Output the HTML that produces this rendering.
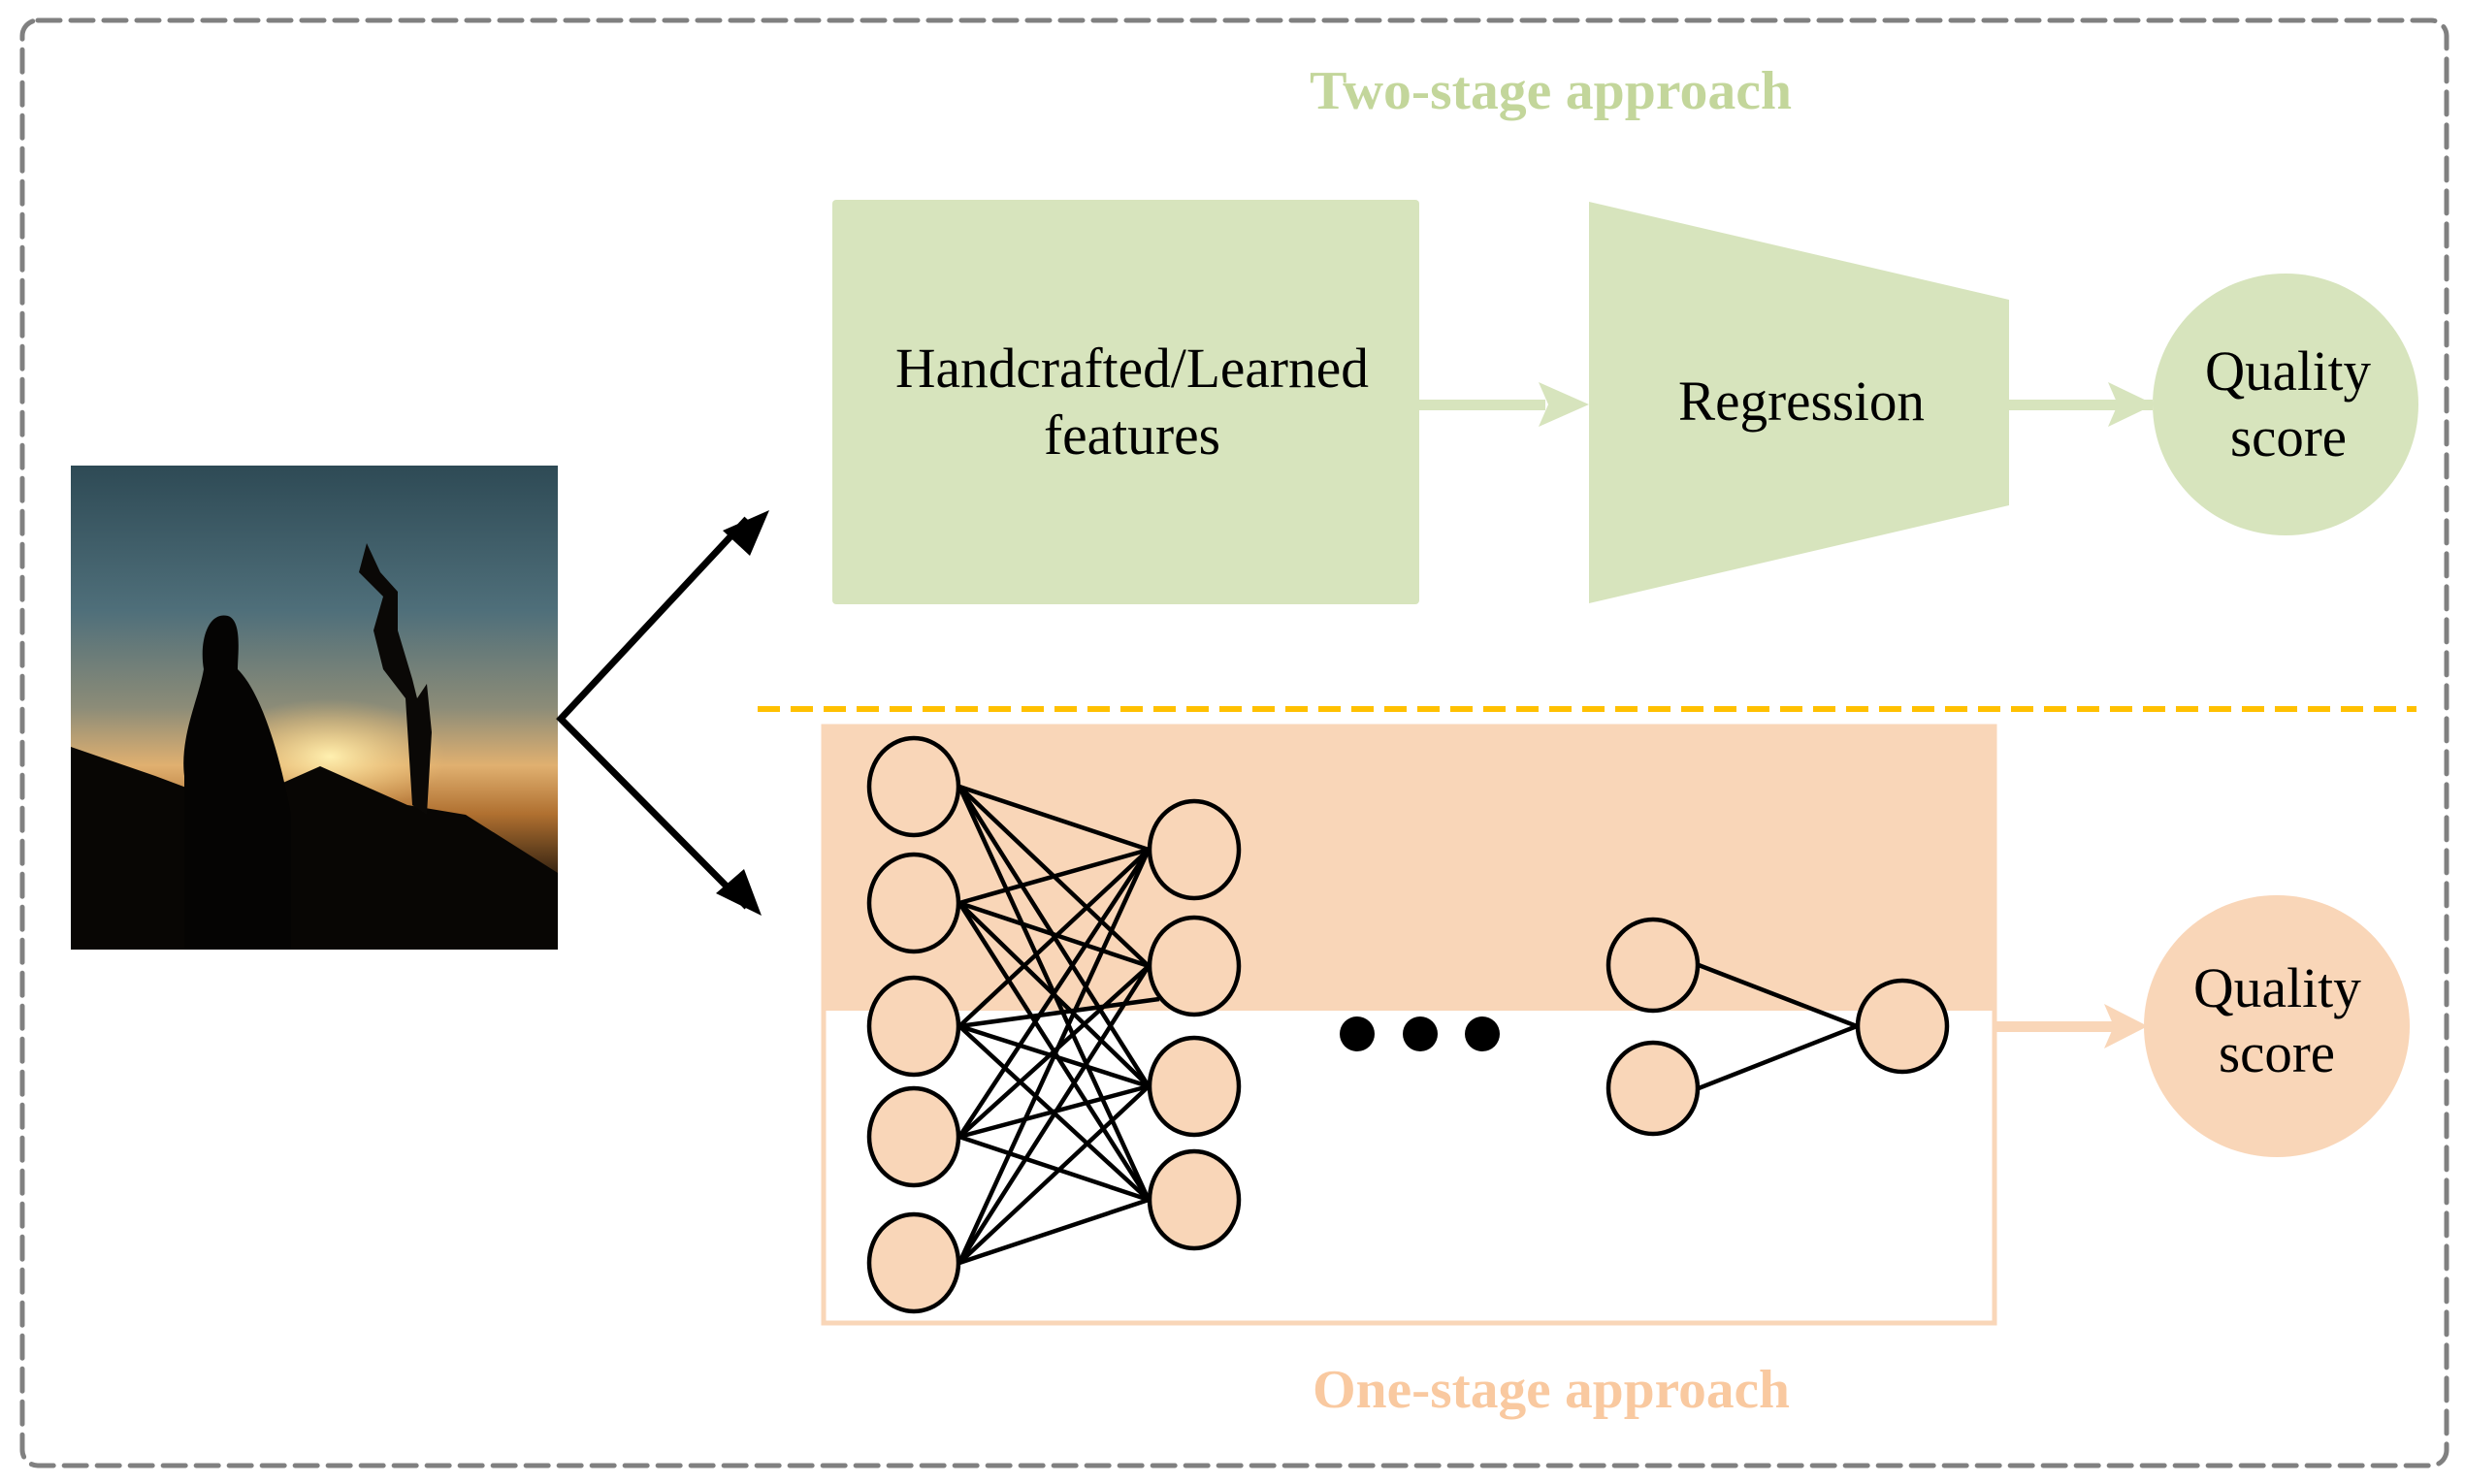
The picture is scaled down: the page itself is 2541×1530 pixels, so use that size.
<!DOCTYPE html>
<html><head><meta charset="utf-8"><style>html,body{margin:0;padding:0;background:#fff}svg{display:block}</style></head><body>
<svg width="2541" height="1530" viewBox="0 0 2541 1530" xmlns="http://www.w3.org/2000/svg" font-family="'Liberation Serif', serif">
<defs>
<linearGradient id="sky" x1="0" y1="0" x2="0" y2="1">
<stop offset="0" stop-color="#2e4a55"/><stop offset="0.3" stop-color="#4f6f7a"/><stop offset="0.5" stop-color="#8c8c78"/><stop offset="0.62" stop-color="#e0b070"/><stop offset="0.72" stop-color="#b07030"/><stop offset="0.85" stop-color="#302010"/><stop offset="1" stop-color="#0a0805"/>
</linearGradient>
<radialGradient id="sun" cx="0.5" cy="0.5" r="0.5"><stop offset="0" stop-color="#fff0b0"/><stop offset="1" stop-color="#f0c070" stop-opacity="0"/></radialGradient>
</defs>
<rect x="23" y="21" width="2499" height="1490" rx="16" fill="none" stroke="#808080" stroke-width="5" stroke-dasharray="23 11" stroke-linecap="round"/>
<rect x="73" y="480" width="502" height="499" fill="url(#sky)"/>
<ellipse cx="340" cy="780" rx="120" ry="60" fill="url(#sun)"/>
<path d="M73 770 L160 800 L240 830 L330 790 L420 830 L480 840 L575 900 L575 979 L73 979 Z" fill="#080604"/>
<path d="M190 800 C185 760 205 720 210 690 C205 660 215 630 235 635 C250 640 245 675 245 690 C265 710 285 760 300 840 L300 979 L190 979 Z" fill="#050403"/>
<path d="M425 830 L418 720 L395 690 L385 650 L395 615 L370 590 L378 560 L392 590 L410 610 L410 650 L425 700 L430 720 L440 705 L445 755 L440 840 Z" fill="#0a0806"/>
<polyline points="770,535 578,741 770,935" fill="none" stroke="#000" stroke-width="7"/>
<polygon points="793,526 745,547 773,573" fill="#000"/>
<polygon points="785,944 738,921 767,896" fill="#000"/>
<text x="1350" y="112" font-size="56" font-weight="bold" fill="#c3d69b" textLength="497" lengthAdjust="spacingAndGlyphs">Two-stage approach</text>
<rect x="858" y="206" width="605" height="417" rx="4" fill="#d7e4bd"/>
<text x="923" y="399" font-size="58" fill="#000" textLength="488" lengthAdjust="spacingAndGlyphs">Handcrafted/Learned</text>
<text x="1076" y="468" font-size="58" fill="#000" textLength="182" lengthAdjust="spacingAndGlyphs">features</text>
<rect x="1463" y="412" width="130" height="11" fill="#d7e4bd"/>
<polygon points="1586,394 1638,417 1586,440 1596,417" fill="#d7e4bd"/>
<polygon points="1638,208 2071,309 2071,521 1638,622" fill="#d7e4bd"/>
<text x="1730" y="433" font-size="58" fill="#000" textLength="254" lengthAdjust="spacingAndGlyphs">Regression</text>
<rect x="2071" y="412" width="148" height="11" fill="#d7e4bd"/>
<polygon points="2173,394 2221,417 2173,440 2183,417" fill="#d7e4bd"/>
<ellipse cx="2356" cy="417" rx="137" ry="135" fill="#d7e4bd"/>
<text x="2273" y="402" font-size="58" fill="#000" textLength="171" lengthAdjust="spacingAndGlyphs">Quality</text>
<text x="2299" y="470" font-size="58" fill="#000" textLength="120" lengthAdjust="spacingAndGlyphs">score</text>
<line x1="781" y1="731" x2="2491" y2="731" stroke="#ffc000" stroke-width="6" stroke-dasharray="23 11"/>
<rect x="849" y="749" width="1207" height="615" fill="none" stroke="#f9d6b8" stroke-width="5"/>
<rect x="847" y="747" width="1211" height="295" fill="#f9d6b8"/>
<g stroke="#000" stroke-width="4.5">
<line x1="989" y1="811" x2="1184" y2="876"/><line x1="989" y1="811" x2="1184" y2="996"/><line x1="989" y1="811" x2="1184" y2="1120"/><line x1="989" y1="811" x2="1184" y2="1237"/>
<line x1="989" y1="931" x2="1184" y2="876"/><line x1="989" y1="931" x2="1184" y2="996"/><line x1="989" y1="931" x2="1184" y2="1120"/><line x1="989" y1="931" x2="1184" y2="1237"/>
<line x1="989" y1="1058" x2="1184" y2="876"/><line x1="989" y1="1058" x2="1195" y2="1030"/><line x1="989" y1="1058" x2="1184" y2="1120"/><line x1="989" y1="1058" x2="1184" y2="1237"/>
<line x1="989" y1="1172" x2="1184" y2="876"/><line x1="989" y1="1172" x2="1184" y2="996"/><line x1="989" y1="1172" x2="1184" y2="1120"/><line x1="989" y1="1172" x2="1184" y2="1237"/>
<line x1="989" y1="1302" x2="1184" y2="876"/><line x1="989" y1="1302" x2="1184" y2="996"/><line x1="989" y1="1302" x2="1184" y2="1120"/><line x1="989" y1="1302" x2="1184" y2="1237"/>
<line x1="1751" y1="995" x2="1914" y2="1058"/><line x1="1751" y1="1122" x2="1914" y2="1058"/>
</g>
<g fill="#f9d6b8" stroke="#000" stroke-width="4.5">
<ellipse cx="942" cy="811" rx="46" ry="50"/><ellipse cx="942" cy="931" rx="46" ry="50"/><ellipse cx="942" cy="1058" rx="46" ry="50"/><ellipse cx="942" cy="1172" rx="46" ry="50"/><ellipse cx="942" cy="1302" rx="46" ry="50"/>
<ellipse cx="1231" cy="876" rx="46" ry="50"/><ellipse cx="1231" cy="996" rx="46" ry="50"/><ellipse cx="1231" cy="1120" rx="46" ry="50"/><ellipse cx="1231" cy="1237" rx="46" ry="50"/>
<ellipse cx="1704" cy="995" rx="46" ry="47"/><ellipse cx="1704" cy="1122" rx="46" ry="47"/><ellipse cx="1961" cy="1058" rx="46" ry="47"/>
</g>
<circle cx="1399" cy="1066" r="18"/><circle cx="1464" cy="1066" r="18"/><circle cx="1528" cy="1066" r="18"/>
<rect x="2056" y="1053" width="125" height="11" fill="#f9d6b8"/>
<polygon points="2169,1035 2214,1058 2169,1081 2179,1058" fill="#f9d6b8"/>
<ellipse cx="2347" cy="1058" rx="137" ry="135" fill="#f9d6b8"/>
<text x="2261" y="1038" font-size="58" fill="#000" textLength="173" lengthAdjust="spacingAndGlyphs">Quality</text>
<text x="2287" y="1105" font-size="58" fill="#000" textLength="120" lengthAdjust="spacingAndGlyphs">score</text>
<text x="1353" y="1451" font-size="56" font-weight="bold" fill="#f9c9a0" textLength="492" lengthAdjust="spacingAndGlyphs">One-stage approach</text>
</svg>
</body></html>
